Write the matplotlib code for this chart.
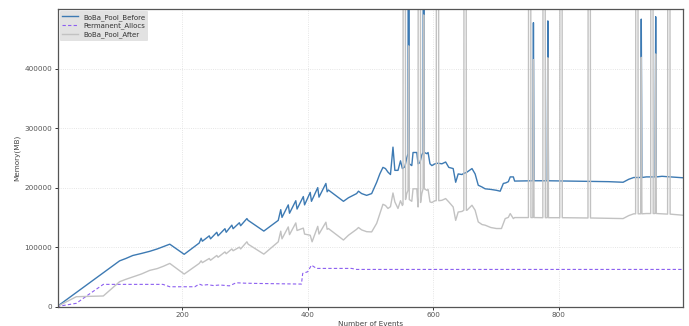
import matplotlib
matplotlib.use("Agg")
import matplotlib.pyplot as plt

HIGH = 2000000  # off-scale allocation bursts (clipped by the y-limit)

before_events = [0, 100, 110, 121, 135, 148, 160, 170, 180, 203,
                 227, 230, 232, 243, 245, 255, 257, 268, 270, 279, 281, 291, 293, 303, 305,
                 330, 353, 357, 359, 369, 371, 381, 383, 393, 395, 404, 406, 416, 418, 429, 431, 433,
                 457, 465, 478, 481, 486, 494, 502, 510, 515, 520, 524, 528, 532, 536, 539, 544, 548, 551,
                 555, 558, 560, 561, 562, 566, 568, 574, 576,
                 579, 582, 584, 585, 586, 590, 592, 595, 598, 603,
                 608, 614, 620, 625, 632, 636, 640, 646, 649,
                 652, 654, 662, 667, 672, 678, 683, 692, 701, 707, 712, 716, 720, 723, 728, 730,
                 759, 760, 761,
                 782, 783, 784,
                 880, 903, 912, 920,
                 931, 932, 933,
                 940, 954, 955, 956,
                 965, 999]
before_mem = [0, 77000, 81000, 86000, 89500, 93000, 97000, 101000, 105000, 88000,
              107000, 115000, 110000, 119000, 114000, 125000, 119000, 131000, 125000, 137000, 131000, 141000, 136000, 148000, 145000,
              127000, 145000, 163000, 150000, 171000, 157000, 178000, 164000, 185000, 171000, 192000, 177000, 200000, 184000, 207000, 193000, 196000,
              177000, 183000, 190000, 194000, 190000, 187000, 190000, 209000, 223000, 234000, 232000, 226000, 222000, 268000, 229000, 229000, 245000, 232000,
              235000, 250000, 257000, HIGH, 240000, 237000, 259000, 259000, 240000,
              242000, 255000, 259000, HIGH, 259000, 257000, 259000, 240000, 237000, 240000,
              241000, 240000, 243000, 234000, 232000, 209000, 223000, 222000, 224000,
              225000, 226000, 232000, 223000, 204000, 201000, 198000, 197000, 195500, 194000, 207000, 208000, 210000, 218000, 218000, 211000,
              211500, 477000, 211500,
              211500, 480000, 211500,
              210000, 209000, 214000, 217000,
              217000, 483000, 217000,
              218000, 218000, 487000, 218000,
              219000, 216500]

perm_events = [0, 10, 31, 50, 74, 169, 180, 220, 227, 232, 240, 250, 260, 275, 286, 300, 323,
               390, 392, 400, 406, 414, 470, 478, 999]
perm_mem = [0, 2000, 5700, 20000, 37500, 37500, 33500, 33500, 38000, 36000, 37000, 35500, 36500, 35000, 40200, 39500, 39000,
            38000, 55900, 58700, 69800, 64300, 64300, 62600, 62600]

after_events = [0, 31, 74, 100, 110, 121, 135, 148, 160, 170, 180, 203,
                227, 230, 232, 243, 245, 255, 257, 268, 270, 279, 281, 291, 293, 303, 305,
                330, 353, 357, 359, 369, 371, 381, 383, 393, 395, 404, 407, 416, 418, 429, 431, 433,
                457, 465, 478, 481, 486, 494, 502, 510, 515, 520, 524, 528, 532, 536, 539, 544, 548, 551,
                552, 553, 554, 555, 556, 558, 560, 561, 562, 566, 568, 574, 576,
                577, 578, 579, 580, 582, 584, 585, 586, 590, 592, 595, 598, 603,
                605, 606, 607, 608, 609, 614, 620, 625, 632, 636, 640, 646, 649,
                650, 651, 652, 653, 654, 662, 667, 672, 678, 683, 692, 701, 709, 715, 720, 723, 728, 730,
                752, 753, 754, 755, 756, 759, 760, 761,
                775, 776, 777, 778, 779, 782, 783, 784,
                802, 803, 804, 805, 806,
                847, 848, 849, 850, 851,
                880, 903, 912, 920,
                923, 924, 925, 926, 927, 931, 932, 933,
                940, 947, 948, 949, 950, 951, 954, 955, 956,
                965, 974, 975, 976, 977, 978, 999]
after_mem = [0, 16800, 18000, 42000, 46000, 50000, 55000, 61000, 64000, 68000, 72700, 54800,
             72700, 77000, 74000, 81000, 78000, 86000, 83000, 92000, 89000, 97000, 94000, 100000, 97000, 109000, 105000,
             88300, 108900, 126800, 114000, 134000, 121000, 140700, 128000, 132000, 122000, 120000, 109000, 135000, 122000, 141900, 130000, 131300,
             112000, 120000, 130000, 133000, 129000, 126000, 125600, 140000, 156000, 172000, 170000, 165000, 168000, 191000, 176000, 165000, 178000, 170000,
             172000, HIGH, HIGH, HIGH, 180000, 190000, 195500, 438000, 180000, 177000, 198000, 198000, 167500,
             HIGH, HIGH, HIGH, 175000, 190000, 198000, 490000, 198000, 195500, 197000, 176000, 175000, 178000,
             178000, HIGH, HIGH, HIGH, 178000, 178700, 181600, 176000, 167500, 145000, 159000, 160000, 162000,
             HIGH, HIGH, HIGH, 162000, 162000, 170400, 162000, 142400, 138000, 136900, 133000, 131300, 131300, 148000, 150000, 156400, 148000, 149700,
             149700, HIGH, HIGH, HIGH, 149700, 149700, 415000, 149700,
             149500, HIGH, HIGH, HIGH, 149500, 149500, 418000, 149500,
             149500, HIGH, HIGH, HIGH, 149500,
             149000, HIGH, HIGH, HIGH, 149000,
             148500, 148000, 153000, 156000,
             156000, HIGH, HIGH, HIGH, 156000, 156000, 418800, 156000,
             156500, 156500, HIGH, HIGH, HIGH, 156500, 156500, 424500, 156500,
             156000, 155500, HIGH, HIGH, HIGH, 155500, 153600]

series_labels = ["BoBa_Pool_Before", "Permanent_Allocs", "BoBa_Pool_After"]
x_label = "Number of Events"
y_label = "Memory(MB)"

fig = plt.figure(figsize=(6.89, 3.26), dpi=100)
ax = fig.add_axes([0.0835, 0.0592, 0.9082, 0.9132])

ax.plot(before_events, before_mem, color="#3d7ab3", lw=1.0, label=series_labels[0])
ax.plot(perm_events, perm_mem, color="#8c5ff0", lw=0.8, ls=(0, (3, 2)), label=series_labels[1])
ax.plot(after_events, after_mem, color="#c2c2c2", lw=1.0, label=series_labels[2])

ax.set_xlim(1, 999)
ax.set_ylim(0, 500000)
ax.set_xticks([200, 400, 600, 800])
ax.set_yticks([0, 100000, 200000, 300000, 400000])
ax.ticklabel_format(style="plain", axis="y")

ax.grid(True, color="#dddddd", ls=":", lw=0.6)
ax.set_axisbelow(True)
for s in ax.spines.values():
    s.set_color("#555555")
    s.set_linewidth(0.9)
ax.tick_params(labelsize=5.2, colors="#333333", labelcolor="#555555", length=2.5, width=0.7, pad=1.5)
ax.set_xlabel(x_label, fontsize=5.2, color="#444444", labelpad=2)
ax.set_ylabel(y_label, fontsize=5.2, color="#444444", labelpad=3)

leg = ax.legend(loc="upper left", fontsize=5.0, frameon=True, facecolor="#e2e2e2", edgecolor="none",
                framealpha=1.0, borderaxespad=0.3, handlelength=2.2, borderpad=0.4, labelspacing=0.3)
for t in leg.get_texts():
    t.set_color("#333333")

fig.savefig("out.png", dpi=100)
